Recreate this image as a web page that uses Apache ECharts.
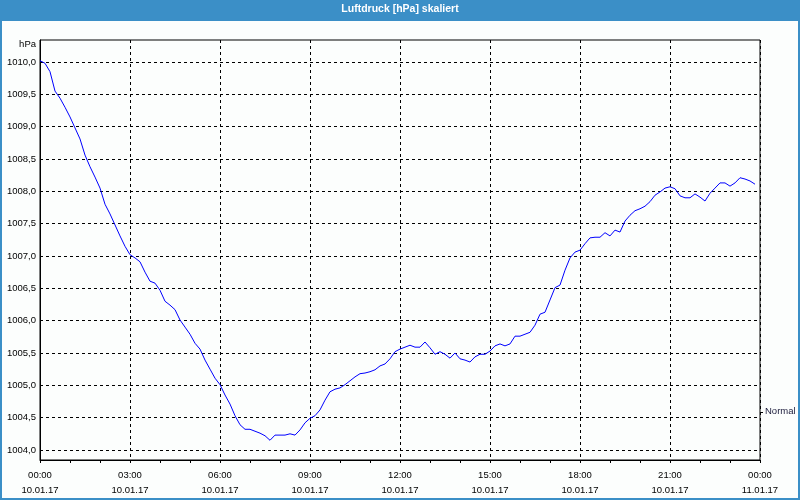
<!DOCTYPE html>
<html>
<head>
<meta charset="utf-8">
<script src="https://cdn.jsdelivr.net/npm/echarts@6/dist/echarts.min.js"></script>
<style>
html,body{margin:0;padding:0;background:#fcfefd;}
#chart{width:800px;height:500px;}
</style>
</head>
<body>
<div id="chart"></div>
<script>
// Time categories every 10 minutes, 10.01.17 00:00 to 11.01.17 00:00
const startDate = '10.01.17';
const endDate = '11.01.17';
const categories = [];
for (let i = 0; i <= 144; i++) {
  const m = i * 10;
  const h = Math.floor(m / 60) % 24;
  const mm = m % 60;
  const d = i < 144 ? startDate : endDate;
  categories.push((h < 10 ? '0' : '') + h + ':' + (mm < 10 ? '0' : '') + mm + '\n' + d);
}

// Air pressure [hPa], one reading per 10 minutes
const pressure = [
  1010.02, 1009.98, 1009.85, 1009.55, 1009.44, 1009.30, 1009.15, 1008.98, 1008.81, 1008.56,
  1008.38, 1008.22, 1008.05, 1007.80, 1007.65, 1007.48, 1007.31, 1007.15, 1007.02, 1006.97,
  1006.91, 1006.75, 1006.61, 1006.58, 1006.47, 1006.30, 1006.24, 1006.17, 1006.01, 1005.90,
  1005.79, 1005.65, 1005.56, 1005.39, 1005.25, 1005.11, 1005.01, 1004.85, 1004.71, 1004.53,
  1004.39, 1004.32, 1004.32, 1004.29, 1004.26, 1004.22, 1004.15, 1004.23, 1004.23, 1004.23,
  1004.25, 1004.23, 1004.31, 1004.42, 1004.49, 1004.53, 1004.62, 1004.77, 1004.90, 1004.94,
  1004.96, 1005.01, 1005.07, 1005.13, 1005.18, 1005.19, 1005.21, 1005.24, 1005.30, 1005.33,
  1005.41, 1005.52, 1005.56, 1005.59, 1005.62, 1005.59, 1005.59, 1005.67, 1005.58, 1005.48,
  1005.52, 1005.48, 1005.42, 1005.50, 1005.41, 1005.39, 1005.36, 1005.44, 1005.48, 1005.48,
  1005.53, 1005.61, 1005.64, 1005.61, 1005.64, 1005.76, 1005.76, 1005.79, 1005.82, 1005.93,
  1006.10, 1006.13, 1006.32, 1006.51, 1006.55, 1006.78, 1006.97, 1007.06, 1007.09, 1007.19,
  1007.28, 1007.29, 1007.29, 1007.36, 1007.31, 1007.40, 1007.37, 1007.54, 1007.63, 1007.70,
  1007.73, 1007.77, 1007.84, 1007.94, 1007.99, 1008.05, 1008.07, 1008.04, 1007.93, 1007.90,
  1007.90, 1007.96, 1007.91, 1007.85, 1007.97, 1008.05, 1008.13, 1008.13, 1008.08, 1008.13,
  1008.21, 1008.19, 1008.16, 1008.11
];

// Y axis tick labels
const yTicks = [1004.0, 1004.5, 1005.0, 1005.5, 1006.0, 1006.5, 1007.0, 1007.5, 1008.0, 1008.5, 1009.0, 1009.5, 1010.0];
const normalLevel = [1004.59];
const yMin = 1003.845;
const yMax = 1010.34;

const FONT = 'Liberation Sans';
const chart = echarts.init(document.getElementById('chart'), null, {renderer: 'canvas'});
chart.setOption({
  backgroundColor: '#fcfefd',
  animation: false,
  title: {
    text: 'Luftdruck [hPa] skaliert',
    left: 'center',
    top: 4,
    padding: 0,
    textStyle: {color: '#ffffff', fontFamily: FONT, fontSize: 10.5, fontWeight: 'bold'}
  },
  graphic: [
    {type: 'rect', left: 0, top: 0, z: -1, shape: {width: 800, height: 21}, style: {fill: '#3b8fc7'}},
    {type: 'rect', left: 0, top: 0, shape: {width: 2, height: 500}, style: {fill: '#3b8fc7'}},
    {type: 'rect', left: 798, top: 0, shape: {width: 2, height: 500}, style: {fill: '#3b8fc7'}},
    {type: 'rect', left: 0, top: 498, shape: {width: 800, height: 2}, style: {fill: '#3b8fc7'}},
    {type: 'text', right: 764, top: 39, style: {text: 'hPa', fill: '#000', font: '9.5px "Liberation Sans"', textAlign: 'right'}}
  ],
  grid: {
    left: 40, right: 40, top: 40, bottom: 40,
    show: true, borderColor: '#000', borderWidth: 1, backgroundColor: 'transparent'
  },
  xAxis: {
    type: 'category',
    data: categories,
    boundaryGap: false,
    axisLine: {show: true, lineStyle: {color: '#000', width: 1}},
    axisTick: {show: true, interval: 5, length: 3, lineStyle: {color: '#000'}},
    axisLabel: {
      interval: 17, margin: 8, color: '#000', fontFamily: FONT, fontSize: 9.5, lineHeight: 15,
      showMinLabel: true, showMaxLabel: true
    },
    splitLine: {show: true, interval: 17, lineStyle: {color: '#000', type: [3, 3], width: 1}}
  },
  yAxis: [
    {
      type: 'value',
      min: yMin, max: yMax,
      axisLine: {show: true, lineStyle: {color: '#000'}},
      axisTick: {show: false},
      splitLine: {show: false},
      axisLabel: {
        customValues: yTicks,
        margin: 4, color: '#000', fontFamily: FONT, fontSize: 9.5,
        formatter: v => v.toFixed(1).replace('.', ',')
      }
    },
    {
      type: 'value',
      position: 'right',
      min: yMin, max: yMax,
      axisLine: {show: false},
      splitLine: {show: false},
      axisTick: {show: true, customValues: normalLevel, length: 3, lineStyle: {color: '#000'}},
      axisLabel: {
        customValues: normalLevel, margin: 5, color: '#1c1c3c', fontFamily: FONT, fontSize: 9.5,
        formatter: () => 'Normal'
      }
    }
  ],
  series: [{
    type: 'line',
    data: pressure,
    yAxisIndex: 0,
    showSymbol: false,
    symbol: 'none',
    lineStyle: {color: '#0000ff', width: 1},
    z: 5,
    markLine: {
      silent: true,
      symbol: 'none',
      label: {show: false},
      lineStyle: {color: '#000', type: [3, 3], width: 1},
      data: yTicks.map(v => ({yAxis: v}))
    }
  }]
});
</script>
</body>
</html>
